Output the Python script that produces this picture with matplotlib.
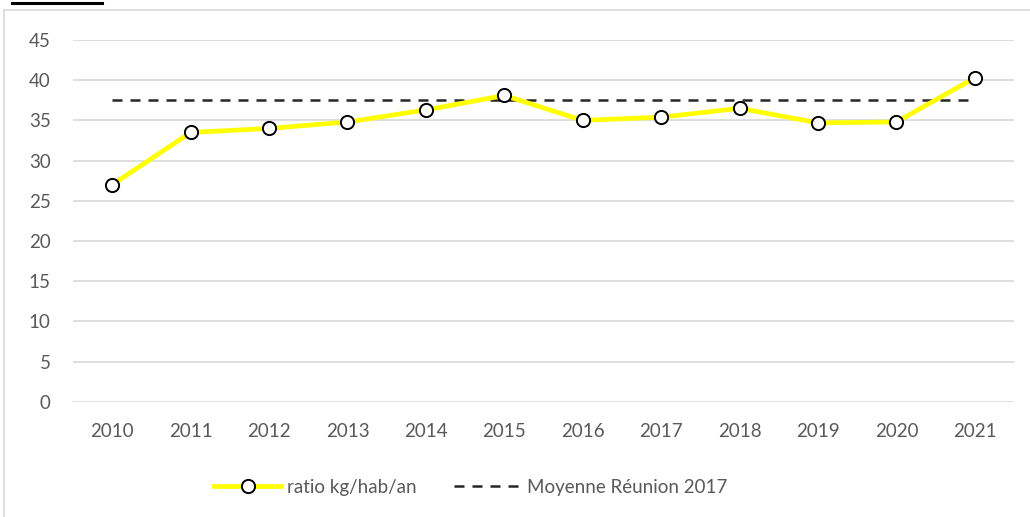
import matplotlib.pyplot as plt
from matplotlib.lines import Line2D
from matplotlib.patches import Rectangle

# Données
annees = ['2010', '2011', '2012', '2013', '2014', '2015',
          '2016', '2017', '2018', '2019', '2020', '2021']
ratio = [27.0, 33.5, 34.0, 34.8, 36.3, 38.1, 35.0, 35.4, 36.5, 34.7, 34.8, 40.3]
moyenne_reunion_2017 = 37.5

gris_texte = '#595959'
plt.rcParams['font.family'] = ['Lato', 'DejaVu Sans']

fig = plt.figure(figsize=(10.30, 5.17), dpi=100)
ax = fig.add_axes([0.0709, 0.223, 0.9136, 0.6996])

x = list(range(len(annees)))

# Moyenne Réunion (pointillés)
ax.plot([x[0], x[-1]], [moyenne_reunion_2017] * 2, color='#262626', lw=1.8,
        ls=(0, (4, 3.2)), label='Moyenne Réunion 2017', zorder=2)

# Ratio kg/hab/an
ax.plot(x, ratio, color='#FFFF00', lw=3.4, marker='o', markersize=9.5,
        markerfacecolor='white', markeredgecolor='black', markeredgewidth=1.4,
        label='ratio kg/hab/an', zorder=3)

ax.set_xlim(-0.5, len(annees) - 0.5)
ax.set_ylim(0, 45)
ax.set_yticks(range(0, 46, 5))
ax.set_xticks(x)
ax.set_xticklabels(annees)
ax.yaxis.grid(True, color='#d9d9d9', lw=1.2)
ax.set_axisbelow(True)
for s in ax.spines.values():
    s.set_visible(False)
ax.tick_params(length=0, labelsize=13.5, colors=gris_texte)
ax.tick_params(axis='x', pad=15)
ax.tick_params(axis='y', pad=16)

handles, labels = ax.get_legend_handles_labels()
leg = fig.legend(handles[::-1], labels[::-1], loc='center', bbox_to_anchor=(0.457, 0.058),
                 ncol=2, frameon=False, fontsize=13.5, handlelength=3.6,
                 columnspacing=2.0, handletextpad=0.3)
for t in leg.get_texts():
    t.set_color(gris_texte)

# Cadre du graphique
fig.patches.append(Rectangle((4 / 1030, -0.1), 1.2, 1 - 10 / 517 + 0.1,
                             transform=fig.transFigure, fill=False,
                             edgecolor='#d9d9d9', lw=1.2))
# Soulignement du titre (coupé)
fig.lines.append(Line2D([12 / 1030, 102 / 1030], [1 - 3 / 517] * 2,
                        transform=fig.transFigure, color='black', lw=2.2))

fig.savefig('out.png', dpi=100)
